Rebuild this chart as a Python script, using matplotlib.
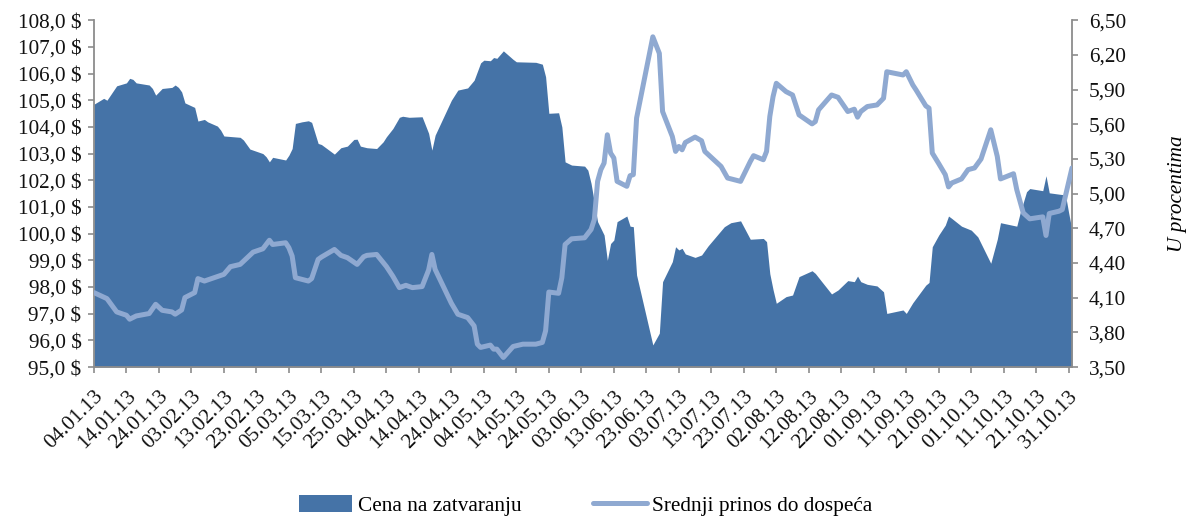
import matplotlib
matplotlib.use("Agg")
import matplotlib.pyplot as plt
import matplotlib.dates as mdates
from matplotlib.ticker import FuncFormatter, FixedLocator, MultipleLocator
from matplotlib.patches import Patch
from matplotlib.lines import Line2D
import pandas as pd

price_dates = [
    "2013-01-04", "2013-01-07", "2013-01-08", "2013-01-11", "2013-01-14", "2013-01-15", "2013-01-16",
    "2013-01-17", "2013-01-21", "2013-01-22", "2013-01-23", "2013-01-25", "2013-01-28", "2013-01-29",
    "2013-01-30", "2013-01-31", "2013-02-01", "2013-02-04", "2013-02-05", "2013-02-06", "2013-02-07",
    "2013-02-08", "2013-02-11", "2013-02-12", "2013-02-13", "2013-02-18", "2013-02-19", "2013-02-21",
    "2013-02-25", "2013-02-26", "2013-02-27", "2013-02-28", "2013-03-04", "2013-03-05", "2013-03-06",
    "2013-03-07", "2013-03-09", "2013-03-11", "2013-03-12", "2013-03-14", "2013-03-15", "2013-03-19",
    "2013-03-21", "2013-03-23", "2013-03-25", "2013-03-26", "2013-03-27", "2013-03-29", "2013-04-01",
    "2013-04-03", "2013-04-04", "2013-04-06", "2013-04-08", "2013-04-09", "2013-04-11", "2013-04-15",
    "2013-04-17", "2013-04-18", "2013-04-19", "2013-04-24", "2013-04-26", "2013-04-29", "2013-05-01",
    "2013-05-03", "2013-05-04", "2013-05-06", "2013-05-07", "2013-05-08", "2013-05-10", "2013-05-13",
    "2013-05-14", "2013-05-20", "2013-05-22", "2013-05-23", "2013-05-24", "2013-05-27", "2013-05-28",
    "2013-05-29", "2013-05-31", "2013-06-04", "2013-06-05", "2013-06-06", "2013-06-08", "2013-06-09",
    "2013-06-10", "2013-06-11", "2013-06-12", "2013-06-13", "2013-06-14", "2013-06-17", "2013-06-18",
    "2013-06-19", "2013-06-20", "2013-06-25", "2013-06-27", "2013-06-28", "2013-07-01", "2013-07-02",
    "2013-07-03", "2013-07-04", "2013-07-05", "2013-07-08", "2013-07-10", "2013-07-12", "2013-07-17",
    "2013-07-19", "2013-07-22", "2013-07-25", "2013-07-29", "2013-07-30", "2013-07-31", "2013-08-01",
    "2013-08-02", "2013-08-05", "2013-08-07", "2013-08-09", "2013-08-13", "2013-08-14", "2013-08-16",
    "2013-08-19", "2013-08-21", "2013-08-24", "2013-08-26", "2013-08-27", "2013-08-28", "2013-08-30",
    "2013-09-02", "2013-09-04", "2013-09-05", "2013-09-10", "2013-09-11", "2013-09-13", "2013-09-17",
    "2013-09-18", "2013-09-19", "2013-09-21", "2013-09-23", "2013-09-24", "2013-09-25", "2013-09-28",
    "2013-10-01", "2013-10-03", "2013-10-07", "2013-10-09", "2013-10-10", "2013-10-15", "2013-10-16",
    "2013-10-18", "2013-10-19", "2013-10-23", "2013-10-24", "2013-10-25", "2013-10-28", "2013-10-30",
    "2013-10-31", "2013-11-01",
]
price_values = [
    104.85, 105.07, 105.00, 105.54, 105.65, 105.82, 105.78,
    105.65, 105.57, 105.44, 105.19, 105.44, 105.48, 105.57,
    105.48, 105.31, 104.90, 104.73, 104.22, 104.25, 104.28,
    104.19, 104.03, 103.88, 103.66, 103.61, 103.51, 103.17,
    103.00, 102.88, 102.69, 102.86, 102.76, 102.94, 103.19,
    104.13, 104.19, 104.23, 104.17, 103.38, 103.34, 102.98,
    103.22, 103.28, 103.53, 103.54, 103.28, 103.22, 103.19,
    103.44, 103.63, 103.94, 104.36, 104.40, 104.36, 104.38,
    103.76, 103.13, 103.69, 105.00, 105.38, 105.46, 105.75,
    106.40, 106.50, 106.48, 106.60, 106.57, 106.85, 106.53,
    106.44, 106.42, 106.35, 105.88, 104.51, 104.53, 104.00,
    102.69, 102.57, 102.53, 102.38, 101.88, 100.45, 100.20,
    99.95, 99.00, 99.63, 99.76, 100.45, 100.66, 100.28,
    100.26, 98.45, 95.83, 96.27, 98.20, 98.95, 99.51,
    99.39, 99.45, 99.24, 99.11, 99.20, 99.54, 100.26,
    100.41, 100.48, 99.79, 99.82, 99.70, 98.50, 97.90,
    97.39, 97.64, 97.70, 98.39, 98.61, 98.51, 98.20,
    97.74, 97.89, 98.24, 98.20, 98.41, 98.20, 98.10,
    98.04, 97.82, 97.01, 97.14, 97.01, 97.41, 98.07,
    98.17, 99.51, 99.95, 100.32, 100.66, 100.57, 100.28,
    100.13, 99.88, 98.89, 99.79, 100.41, 100.28, 100.76,
    101.57, 101.69, 101.61, 102.17, 101.53, 101.48, 101.45,
    100.76, 100.13,
]

yield_dates = [
    "2013-01-04", "2013-01-08", "2013-01-11", "2013-01-14", "2013-01-15", "2013-01-17", "2013-01-21",
    "2013-01-23", "2013-01-25", "2013-01-28", "2013-01-29", "2013-01-31", "2013-02-01", "2013-02-04",
    "2013-02-05", "2013-02-07", "2013-02-13", "2013-02-15", "2013-02-18", "2013-02-22", "2013-02-25",
    "2013-02-27", "2013-02-28", "2013-03-04", "2013-03-05", "2013-03-06", "2013-03-07", "2013-03-11",
    "2013-03-12", "2013-03-14", "2013-03-15", "2013-03-19", "2013-03-21", "2013-03-23", "2013-03-26",
    "2013-03-28", "2013-03-29", "2013-04-01", "2013-04-04", "2013-04-06", "2013-04-08", "2013-04-10",
    "2013-04-12", "2013-04-15", "2013-04-17", "2013-04-18", "2013-04-19", "2013-04-24", "2013-04-26",
    "2013-04-29", "2013-05-01", "2013-05-02", "2013-05-03", "2013-05-06", "2013-05-07", "2013-05-08",
    "2013-05-10", "2013-05-13", "2013-05-16", "2013-05-20", "2013-05-22", "2013-05-23", "2013-05-24",
    "2013-05-27", "2013-05-28", "2013-05-29", "2013-05-31", "2013-06-04", "2013-06-06", "2013-06-07",
    "2013-06-08", "2013-06-09", "2013-06-10", "2013-06-11", "2013-06-12", "2013-06-13", "2013-06-14",
    "2013-06-17", "2013-06-18", "2013-06-19", "2013-06-20", "2013-06-25", "2013-06-27", "2013-06-28",
    "2013-07-01", "2013-07-02", "2013-07-03", "2013-07-04", "2013-07-05", "2013-07-08", "2013-07-10",
    "2013-07-11", "2013-07-16", "2013-07-18", "2013-07-22", "2013-07-25", "2013-07-26", "2013-07-29",
    "2013-07-30", "2013-07-31", "2013-08-01", "2013-08-02", "2013-08-05", "2013-08-07", "2013-08-09",
    "2013-08-13", "2013-08-14", "2013-08-15", "2013-08-19", "2013-08-21", "2013-08-24", "2013-08-26",
    "2013-08-27", "2013-08-28", "2013-08-30", "2013-09-02", "2013-09-04", "2013-09-05", "2013-09-10",
    "2013-09-11", "2013-09-13", "2013-09-14", "2013-09-17", "2013-09-18", "2013-09-19", "2013-09-21",
    "2013-09-23", "2013-09-24", "2013-09-25", "2013-09-28", "2013-09-30", "2013-10-02", "2013-10-04",
    "2013-10-07", "2013-10-09", "2013-10-10", "2013-10-14", "2013-10-15", "2013-10-17", "2013-10-19",
    "2013-10-23", "2013-10-24", "2013-10-25", "2013-10-28", "2013-10-29", "2013-11-01",
]
yield_values = [
    4.144, 4.092, 3.977, 3.948, 3.914, 3.942, 3.963,
    4.043, 3.991, 3.977, 3.957, 3.994, 4.101, 4.144,
    4.265, 4.244, 4.302, 4.368, 4.388, 4.494, 4.523,
    4.597, 4.560, 4.575, 4.532, 4.460, 4.273, 4.244,
    4.265, 4.431, 4.451, 4.517, 4.466, 4.446, 4.388,
    4.454, 4.466, 4.474, 4.370, 4.285, 4.187, 4.207,
    4.187, 4.196, 4.339, 4.474, 4.345, 4.052, 3.957,
    3.928, 3.856, 3.698, 3.670, 3.690, 3.655, 3.655,
    3.583, 3.678, 3.698, 3.698, 3.713, 3.813, 4.149,
    4.138, 4.273, 4.560, 4.609, 4.618, 4.690, 4.776,
    5.106, 5.207, 5.264, 5.509, 5.351, 5.308, 5.106,
    5.063, 5.155, 5.164, 5.653, 6.356, 6.213, 5.710,
    5.494, 5.365, 5.408, 5.379, 5.442, 5.489, 5.457,
    5.365, 5.235, 5.135, 5.106, 5.278, 5.328, 5.293,
    5.365, 5.667, 5.839, 5.954, 5.882, 5.853, 5.681,
    5.603, 5.623, 5.724, 5.853, 5.833, 5.710, 5.730,
    5.661, 5.710, 5.753, 5.767, 5.825, 6.054, 6.026,
    6.054, 5.940, 5.897, 5.759, 5.739, 5.351, 5.259,
    5.164, 5.058, 5.092, 5.127, 5.207, 5.222, 5.299,
    5.552, 5.322, 5.127, 5.172, 5.034, 4.833, 4.782,
    4.799, 4.638, 4.828, 4.848, 4.862, 5.222,
]

series_names = ["Cena na zatvaranju", "Srednji prinos do dospeća"]
right_axis_label = "U procentima"

AREA_COLOR = "#4573A7"
LINE_COLOR = "#8FA9D1"
SPINE_COLOR = "#8C8C8C"
FONT = "Liberation Serif"
FS = 15.3

plt.rcParams["font.family"] = FONT

fig = plt.figure(figsize=(11.89, 5.17), dpi=100)
ax = fig.add_axes([0.079, 0.290, 0.8226, 0.671])
ax2 = ax.twinx()

pd_price = pd.to_datetime(price_dates)
pd_yield = pd.to_datetime(yield_dates)

ax.fill_between(pd_price, 95.0, price_values, color=AREA_COLOR, linewidth=0, zorder=2)
ax2.plot(pd_yield, yield_values, color=LINE_COLOR, linewidth=3.6,
         solid_joinstyle="round", solid_capstyle="round", zorder=3)

ax.set_ylim(95, 108)
ax.yaxis.set_major_locator(MultipleLocator(1))
ax.yaxis.set_major_formatter(FuncFormatter(lambda v, p: f"{v:.1f}".replace(".", ",") + " $"))
ax2.set_ylim(3.5, 6.5)
ax2.yaxis.set_major_locator(FixedLocator([3.5 + 0.3 * i for i in range(11)]))
ax2.yaxis.set_major_formatter(FuncFormatter(lambda v, p: f"{v:.2f}".replace(".", ",")))

ax.set_xlim(pd.Timestamp("2013-01-04"), pd.Timestamp("2013-11-01"))
ticks = pd.date_range("2013-01-04", "2013-10-31", freq="10D")
ax.xaxis.set_major_locator(FixedLocator(mdates.date2num(ticks)))
ax.xaxis.set_major_formatter(mdates.DateFormatter("%d.%m.%y"))

for a in (ax, ax2):
    a.spines["top"].set_visible(False)
    for s in ("left", "right", "bottom"):
        a.spines[s].set_color(SPINE_COLOR)
        a.spines[s].set_linewidth(1.3)
    a.tick_params(colors=SPINE_COLOR, labelcolor="#111111", length=4, width=1.2, labelsize=FS)
ax.spines["right"].set_visible(False)
ax2.spines["left"].set_visible(False)
ax2.spines["bottom"].set_visible(False)

ax.tick_params(axis="y", pad=5)
ax2.tick_params(axis="y", pad=8)
ax.tick_params(axis="x", pad=10)
for lbl in ax.get_xticklabels():
    lbl.set_rotation(45)
    lbl.set_ha("right")
    lbl.set_va("top")
    lbl.set_rotation_mode("anchor")

ax2.set_ylabel(right_axis_label, fontsize=FS, style="italic", labelpad=30, rotation=90)

handles = [Patch(facecolor=AREA_COLOR, edgecolor="none"),
           Line2D([0], [0], color=LINE_COLOR, linewidth=3.6, solid_capstyle="round")]
fig.legend(handles, series_names, loc="center", bbox_to_anchor=(0.4925, 0.022),
           ncol=2, frameon=False, fontsize=FS, handlelength=2.5, handleheight=0.8,
           columnspacing=3.4, handletextpad=0.25)

fig.savefig("out.png", dpi=100)
